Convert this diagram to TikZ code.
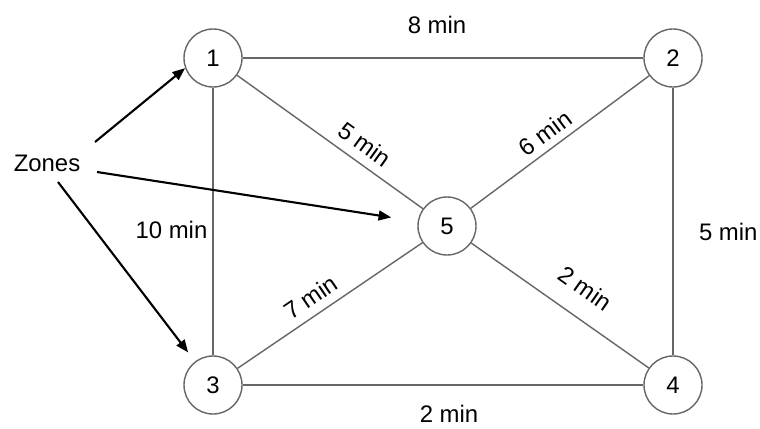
\documentclass[tikz,border=0pt]{standalone}
\usepackage{fontspec}
\setmainfont{Liberation Sans}
\usetikzlibrary{arrows.meta}
\begin{document}
\begin{tikzpicture}[x=0.025cm,y=-0.025cm]
\tikzstyle{every node}+=[font=\fontsize{17}{20}\selectfont]
\tikzstyle{zone}=[draw=black!60, line width=1pt, circle, minimum size=1.45cm, inner sep=0pt]
\tikzstyle{road}=[draw=black!60, line width=1pt]
\tikzstyle{lbl}=[inner sep=1pt, sloped]
\tikzstyle{feed}=[black, line width=1.5pt, -{Triangle[length=9pt,width=7pt]}]
\useasboundingbox (0,0) rectangle (760,428);
\node[zone] (n1) at (213,58) {1};
\node[zone] (n2) at (673,58) {2};
\node[zone] (n3) at (213,385) {3};
\node[zone] (n4) at (673,385) {4};
\node[zone] (n5) at (447,226) {5};
\node (zones) at (47,163) {Zones};
\coordinate (z1) at (95,142);
\coordinate (z2) at (97,172);
\coordinate (z3) at (58,182);
\draw[road] (n1) -- node[lbl, above=16pt, pos=0.485] {8 min} (n2);
\draw[road] (n3) -- node[lbl, below=13pt, pos=0.515] {2 min} (n4);
\draw[road] (n1) -- node[inner sep=1pt, left=2.5pt, pos=0.53] {10 min} (n3);
\draw[road] (n2) -- node[inner sep=1pt, right=17pt, pos=0.54] {5 min} (n4);
\draw[road] (n1) -- node[lbl, above=5.5pt, pos=0.63] {5 min} (n5);
\draw[road] (n5) -- node[lbl, above=3.5pt, pos=0.47] {6 min} (n2);
\draw[road] (n3) -- node[lbl, above=5pt, pos=0.45] {7 min} (n5);
\draw[road] (n5) -- node[lbl, above=13pt, pos=0.55] {2 min} (n4);
\draw[feed] (z1) -- (n1.200);
\draw[feed, shorten >=19pt] (z2) -- (n5);
\draw[feed, shorten >=8pt] (z3) -- (n3);
\end{tikzpicture}
\end{document}
